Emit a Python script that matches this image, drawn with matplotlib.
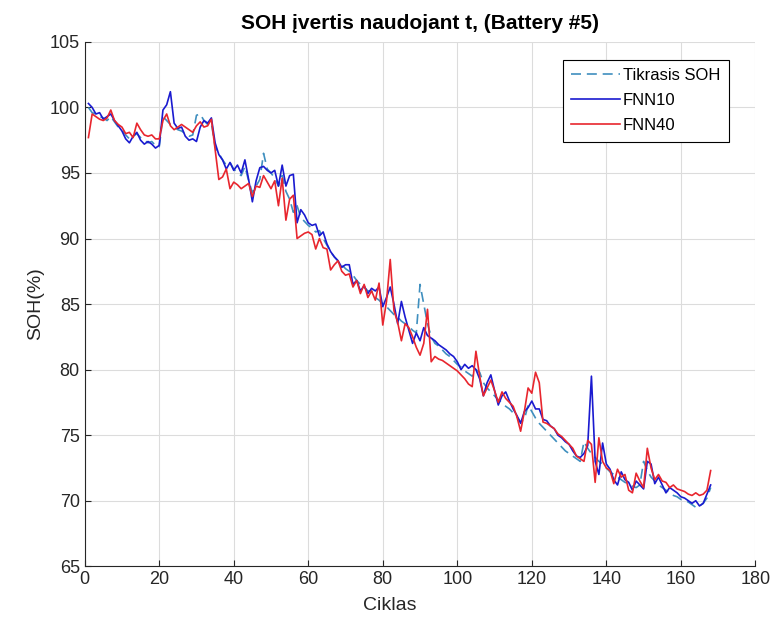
import matplotlib
matplotlib.use("Agg")
import matplotlib.pyplot as plt
import numpy as np

plt.rcParams['font.family'] = ['Liberation Sans', 'DejaVu Sans']

cycles = np.arange(1, 169)

# measured state of health (%)
soh_true = [
    100.0, 99.6, 99.5, 99.3, 99.2, 99.0, 99.3, 98.9, 98.5, 98.3,
    97.9, 97.6, 97.8, 98.0, 97.7, 97.5, 97.3, 97.4, 97.1, 97.0,
    99.3, 99.0, 98.7, 98.5, 98.3, 98.2, 98.0, 97.8, 97.9, 99.4,
    99.5, 99.0, 98.7, 98.8, 97.0, 96.5, 96.0, 95.6, 95.8, 95.3,
    95.0, 94.8, 95.5, 94.4, 93.5, 94.0, 94.5, 96.5, 95.3, 95.0,
    94.6, 94.0, 94.8, 93.6, 93.0, 92.0, 92.5, 91.6, 91.3, 91.0,
    90.8, 90.5, 90.6, 90.0, 89.5, 89.0, 88.6, 88.3, 88.0, 87.7,
    87.5, 87.2, 86.8, 86.5, 86.3, 86.0, 86.0, 85.5, 85.3, 85.0,
    84.8, 84.5, 84.2, 84.0, 83.7, 83.5, 83.3, 83.0, 82.8, 86.5,
    85.0, 83.5, 82.5, 82.0, 81.8, 81.5, 81.2, 81.0, 80.7, 80.4,
    80.2, 79.9, 79.7, 79.5, 80.0, 79.8, 79.0, 78.6, 78.3, 78.0,
    77.7, 77.5, 77.2, 77.0, 76.7, 76.4, 76.0, 76.2, 77.3, 76.8,
    76.3, 75.9, 75.6, 75.3, 75.0, 74.7, 74.4, 74.1, 73.8, 73.6,
    73.4, 73.2, 73.0, 74.5, 74.0, 73.6, 73.3, 73.0, 72.8, 72.5,
    72.2, 72.0, 71.8, 71.6, 71.4, 71.3, 71.1, 71.0, 71.2, 73.0,
    72.3, 71.8, 71.5, 71.2, 71.0, 70.8, 70.6, 70.4, 70.3, 70.1,
    70.0, 69.9, 69.7, 69.5, 69.6, 69.8, 70.2, 71.0,
]

# FNN with 10 hidden neurons
soh_fnn10 = [
    100.3, 100.0, 99.5, 99.6, 99.1, 99.3, 99.5, 99.0, 98.6, 98.2,
    97.6, 97.3, 97.8, 98.1, 97.5, 97.2, 97.4, 97.2, 96.9, 97.1,
    99.8, 100.2, 101.2, 98.8, 98.4, 98.5, 97.8, 97.5, 97.6, 97.4,
    98.5, 99.0, 98.8, 99.2, 97.3, 96.4, 96.0, 95.3, 95.8, 95.2,
    95.6, 95.0, 96.0, 94.5, 92.8, 94.4, 95.4, 95.5, 95.2, 95.0,
    95.2, 94.0, 95.6, 94.0, 94.8, 94.9, 91.2, 92.2, 91.8, 91.2,
    91.0, 91.1, 90.2, 90.5, 89.6, 89.0, 88.6, 88.3, 87.8, 88.0,
    88.0, 86.5, 86.8, 86.0, 86.4, 85.8, 86.2, 86.0, 86.3, 84.8,
    85.5, 86.3, 85.0, 83.5, 85.2, 84.0, 83.0, 82.0, 82.8, 82.2,
    83.2, 82.6, 82.4, 82.2, 81.9, 81.7, 81.5, 81.2, 81.0, 80.6,
    80.0, 80.4, 80.1, 80.3, 80.0, 79.3, 78.0, 79.0, 79.6, 78.4,
    77.3, 78.0, 78.3, 77.6, 77.0, 76.5, 75.9, 76.8, 77.1, 77.6,
    77.0, 77.0, 76.2, 76.1, 75.7, 75.5, 75.0, 74.8, 74.5, 74.3,
    73.8, 73.4, 73.3, 73.6, 74.2, 79.5, 73.0, 72.0, 74.4, 72.8,
    72.4, 71.6, 71.2, 72.2, 71.6, 71.4, 70.8, 71.5, 71.2, 70.9,
    73.0, 72.8, 71.3, 71.8, 71.2, 70.6, 71.0, 70.8, 70.6, 70.3,
    70.2, 70.0, 69.8, 70.0, 69.6, 69.8, 70.5, 71.2,
]

# FNN with 40 hidden neurons
soh_fnn40 = [
    97.7, 99.5, 99.3, 99.1, 99.0, 99.2, 99.8, 99.0, 98.7, 98.5,
    98.0, 98.1, 97.7, 98.8, 98.3, 97.9, 97.8, 97.9, 97.6, 97.6,
    99.0, 99.5, 98.6, 98.3, 98.5, 98.7, 98.5, 98.3, 98.1, 98.6,
    98.9, 98.5, 98.6, 99.1, 96.8, 94.5, 94.7, 95.3, 93.8, 94.3,
    94.1, 93.8, 94.0, 94.2, 93.2, 94.0, 93.9, 94.8, 94.3, 93.8,
    94.4, 92.5, 94.6, 91.4, 93.0, 93.3, 90.0, 90.2, 90.4, 90.5,
    90.3, 89.2, 90.0, 89.3, 89.2, 87.6, 88.0, 88.3, 87.5, 87.2,
    87.3, 86.3, 86.8, 85.8, 86.5, 85.5, 86.0, 85.3, 86.6, 83.4,
    85.2, 88.4, 84.5, 83.6, 82.2, 83.5, 83.2, 82.5, 81.7, 81.1,
    82.0, 84.6, 80.6, 81.0, 80.8, 80.7, 80.5, 80.3, 80.1, 79.9,
    79.6, 79.3, 78.9, 78.7, 81.4, 79.5, 78.0, 78.6, 79.2, 78.4,
    77.5, 78.3, 77.8, 77.5, 77.2, 76.4, 75.3, 76.8, 78.6, 78.2,
    79.8, 79.0, 76.0, 75.9, 75.7, 75.5, 75.1, 74.9, 74.6, 74.3,
    74.0, 73.4, 73.2, 73.0, 74.6, 74.3, 71.4, 74.8, 73.0, 72.5,
    72.3, 71.3, 72.4, 71.8, 72.0, 70.8, 70.6, 72.1, 71.5, 71.0,
    74.0, 72.5, 71.6, 72.0, 71.5, 71.4, 71.0, 71.2, 70.9, 70.8,
    70.7, 70.5, 70.4, 70.6, 70.4, 70.5, 70.8, 72.3,
]

fig = plt.figure(figsize=(7.7, 6.25), dpi=100)
ax = fig.add_axes([0.110, 0.094, 0.871, 0.839])

ax.plot(cycles, soh_true, '--', color='#3f8fbf', lw=1.2, dashes=(6, 3.5), label='Tikrasis SOH')
ax.plot(cycles, soh_fnn10, '-', color='#1a1ad0', lw=1.2, label='FNN10')
ax.plot(cycles, soh_fnn40, '-', color='#e8262e', lw=1.2, label='FNN40')

ax.set_xlim(0, 180)
ax.set_ylim(65, 105)
ax.set_xticks(np.arange(0, 181, 20))
ax.set_yticks(np.arange(65, 106, 5))
ax.grid(True, color='#dcdcdc', lw=0.8)
ax.set_axisbelow(True)
ax.tick_params(direction='in', labelsize=13, length=4, colors='#262626')
for s in ['top', 'right']:
    ax.spines[s].set_visible(False)
for s in ['left', 'bottom']:
    ax.spines[s].set_color('#262626')

ax.set_xlabel('Ciklas', fontsize=14, color='#262626')
ax.xaxis.set_label_coords(0.455, -0.058)
ax.set_ylabel('SOH(%)', fontsize=14, color='#262626')
ax.set_title('SOH įvertis naudojant t, (Battery #5)', fontsize=15, fontweight='bold', pad=9)

leg = ax.legend(loc='upper right', bbox_to_anchor=(0.965, 0.972), fontsize=12,
                fancybox=False, edgecolor='black', framealpha=1,
                handlelength=2.9, handletextpad=0.2, labelspacing=0.6,
                borderpad=0.5, borderaxespad=0.2)
leg.get_frame().set_linewidth(0.8)

fig.savefig('out.png', dpi=100)
